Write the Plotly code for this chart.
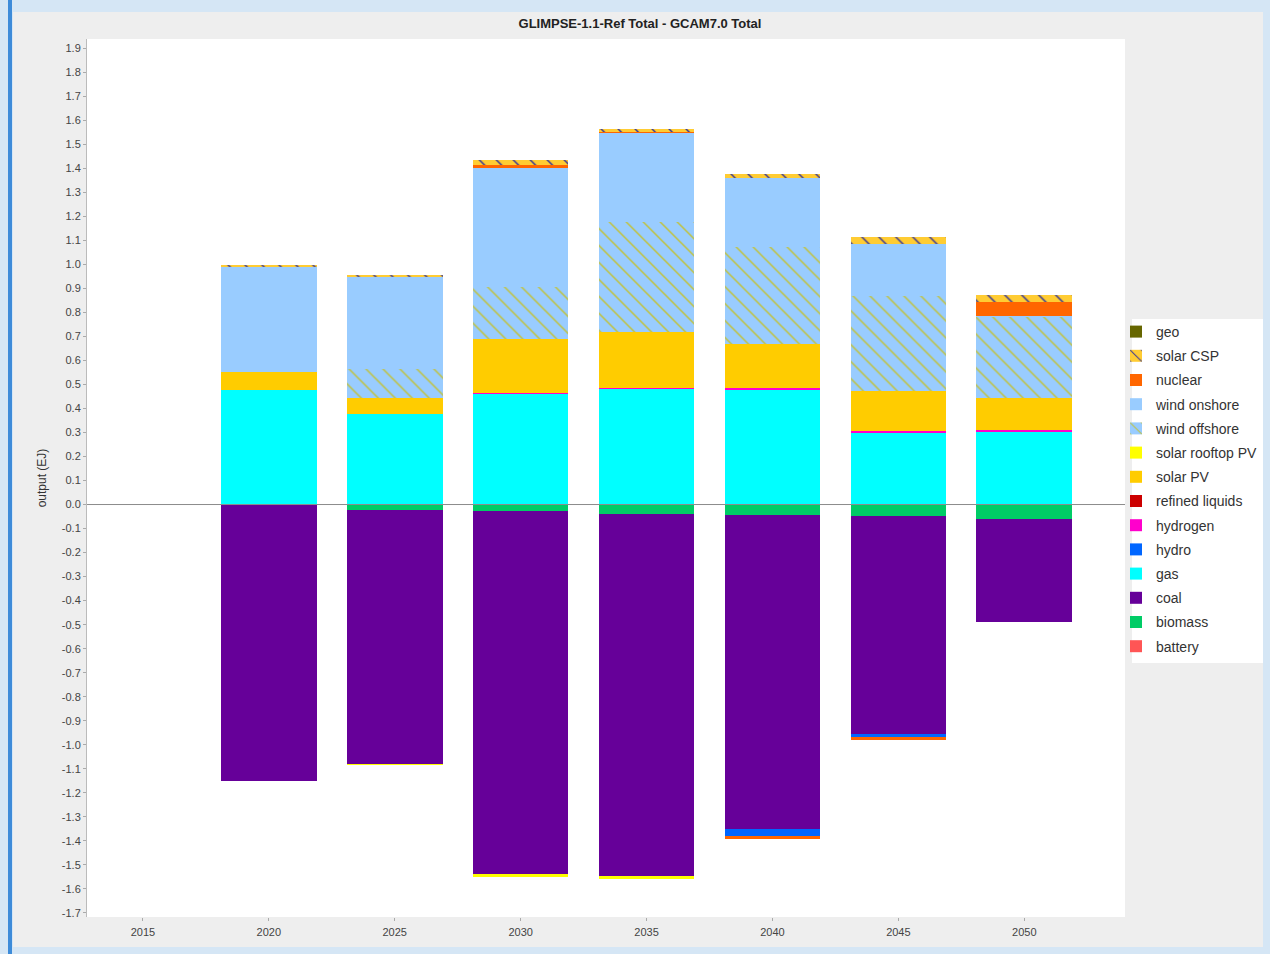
import plotly.graph_objects as go

years = [2020, 2025, 2030, 2035, 2040, 2045, 2050]

# Series values (EJ)
battery = [0.0, 0.0, 0.0, 0.0, 0.0, 0.0, 0.0]
biomass = [-0.002, -0.021, -0.028, -0.039, -0.042, -0.049, -0.060]
coal = [-1.148, -1.060, -1.510, -1.508, -1.308, -0.908, -0.427]
gas = [0.475, 0.375, 0.462, 0.483, 0.480, 0.300, 0.305]
hydro_pos = [0.0, 0.0, 0.0, 0.0, 0.0, 0.0, 0.0]
hydro_neg = [0.0, 0.0, 0.0, 0.0, -0.031, -0.011, 0.0]
hydrogen = [0.0, 0.0, 0.002, 0.002, 0.007, 0.005, 0.004]
refined_liquids = [0.0, 0.0, 0.0, 0.0, 0.0, 0.0, 0.0]
solar_pv = [0.078, 0.070, 0.223, 0.231, 0.183, 0.169, 0.136]
solar_rooftop_pv = [0.0, 0.0, 0.0, 0.0, 0.0, 0.0, 0.0]
solar_rooftop_pv_neg = [0.0, -0.003, -0.012, -0.013, 0.0, 0.0, 0.0]
wind_offshore = [0.0, 0.117, 0.220, 0.458, 0.401, 0.392, 0.337]
wind_onshore = [0.437, 0.387, 0.494, 0.371, 0.287, 0.219, 0.002]
nuclear = [0.0, 0.0, 0.014, 0.009, 0.0, 0.0, 0.058]
nuclear_neg = [0.0, 0.0, 0.0, 0.0, -0.012, -0.010, 0.0]
solar_csp = [0.005, 0.004, 0.020, 0.007, 0.018, 0.027, 0.028]
geo = [0.0, 0.0, 0.0, 0.0, 0.0, 0.0, 0.0]

x_tick_years = [2015, 2020, 2025, 2030, 2035, 2040, 2045, 2050]
y_tick_vals = [round(-1.7 + 0.1 * i, 1) for i in range(37)]
y_tick_text = ["%.1f" % v for v in y_tick_vals]
y_tick_text = ["0.0" if t == "-0.0" else t for t in y_tick_text]

# plot-area geometry (pixels) used for margins/decor
W, H = 1270, 954
L, R, T, B = 87, 1125, 39, 917
PW, PH = R - L, B - T


def px2x(px):
    return (px - L) / PW


def px2y(py):
    return (B - py) / PH


series = [
    # name, values, color, pattern
    ("battery", battery, "#FF5555", None),
    ("biomass", biomass, "#00CC66", None),
    ("coal", coal, "#660099", None),
    ("gas", gas, "#00FFFF", None),
    ("hydro", [a + b for a, b in zip(hydro_pos, hydro_neg)], "#0066FF", None),
    ("hydrogen", hydrogen, "#FF00CC", None),
    ("refined liquids", refined_liquids, "#CC0000", None),
    ("solar PV", solar_pv, "#FFCC00", None),
    ("solar rooftop PV", [a + b for a, b in zip(solar_rooftop_pv, solar_rooftop_pv_neg)], "#FFFF00", None),
    ("wind offshore", wind_offshore, "#99CCFF", ("#C2C236", "#99CCFF")),
    ("wind onshore", wind_onshore, "#99CCFF", None),
    ("nuclear", [a + b for a, b in zip(nuclear, nuclear_neg)], "#FF6600", None),
    ("solar CSP", solar_csp, "#FFCC33", ("#333399", "#FFCC33")),
    ("geo", geo, "#666600", None),
]

fig = go.Figure()
n = len(series)
for i, (name, vals, color, pat) in enumerate(series):
    marker = dict(color=color, line=dict(width=0))
    if pat is not None:
        marker["pattern"] = dict(shape="\\", fgcolor=pat[0], bgcolor=pat[1],
                                 size=12, solidity=0.12, fillmode="replace")
    fig.add_trace(go.Bar(
        x=years, y=vals, name=name, marker=marker, width=3.8,
        legendgroup=name, legendrank=n - i, hoverinfo="x+y+name",
    ))

shapes = [
    # gray chart panel
    dict(type="rect", xref="paper", yref="paper",
         x0=px2x(13), x1=px2x(1263), y0=px2y(947), y1=px2y(12),
         fillcolor="#EEEEEE", line=dict(width=0), layer="below"),
    # left dark stripe
    dict(type="rect", xref="paper", yref="paper",
         x0=px2x(8), x1=px2x(12), y0=px2y(954), y1=px2y(0),
         fillcolor="#3D8BD9", line=dict(width=0), layer="below"),
    # plot area
    dict(type="rect", xref="paper", yref="paper",
         x0=0, x1=1, y0=0, y1=1,
         fillcolor="#FFFFFF", line=dict(width=0), layer="below"),
    # legend box
    dict(type="rect", xref="paper", yref="paper",
         x0=px2x(1132), x1=px2x(1263), y0=px2y(663), y1=px2y(319),
         fillcolor="#FFFFFF", line=dict(width=0), layer="below"),
    # zero line
    dict(type="line", xref="paper", yref="y", x0=0, x1=1, y0=0, y1=0,
         line=dict(color="#8C8C8C", width=1), layer="above"),
]

fig.update_layout(
    width=W, height=H,
    barmode="relative",
    bargap=0,
    paper_bgcolor="#D5E6F5",
    plot_bgcolor="#FFFFFF",
    margin=dict(l=L, r=W - R, t=T, b=H - B, pad=0, autoexpand=False),
    font=dict(family="Liberation Sans, Arial, sans-serif", color="#333333"),
    title=dict(text="<b>GLIMPSE-1.1-Ref Total - GCAM7.0 Total</b>",
               font=dict(size=13, color="#222222"),
               x=640 / W, xref="container", xanchor="center",
               y=1 - 23 / H, yref="container", yanchor="middle"),
    shapes=shapes,
    showlegend=True,
    legend=dict(
        x=px2x(1116), xanchor="left", y=px2y(316), yanchor="top",
        bgcolor="rgba(0,0,0,0)", borderwidth=0,
        font=dict(size=14, color="#333333"),
        traceorder="grouped", tracegroupgap=3,
        itemclick=False, itemdoubleclick=False,
    ),
    xaxis=dict(
        range=[2012.78, 2054.0], tickvals=x_tick_years,
        ticktext=[str(y) for y in x_tick_years],
        ticks="outside", ticklen=3, tickcolor="#AAAAAA",
        tickfont=dict(size=11, color="#444444"),
        ticklabelstandoff=2,
        showgrid=False, zeroline=False, showline=False,
    ),
    yaxis=dict(
        range=[-1.7167, 1.9375], tickvals=y_tick_vals, ticktext=y_tick_text,
        ticks="outside", ticklen=3, tickcolor="#AAAAAA",
        tickfont=dict(size=11, color="#444444"),
        showgrid=False, zeroline=False,
        showline=True, linecolor="#BBBBBB", linewidth=1,
        title=dict(text="output (EJ)", font=dict(size=12, color="#333333"), standoff=12),
    ),
)

fig.write_html("out.html",
               config={"displayModeBar": False},
               post_script="document.body.style.margin='0';document.body.style.overflow='hidden';")
